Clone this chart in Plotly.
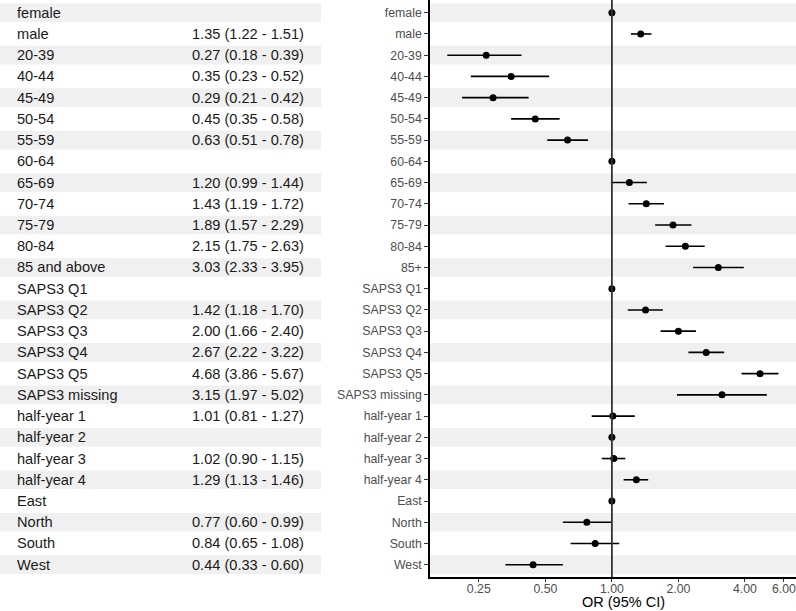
import plotly.graph_objects as go

table_labels = ["female", "male", "20-39", "40-44", "45-49", "50-54", "55-59", "60-64",
                "65-69", "70-74", "75-79", "80-84", "85 and above", "SAPS3 Q1", "SAPS3 Q2",
                "SAPS3 Q3", "SAPS3 Q4", "SAPS3 Q5", "SAPS3 missing", "half-year 1",
                "half-year 2", "half-year 3", "half-year 4", "East", "North", "South", "West"]
axis_labels = ["female", "male", "20-39", "40-44", "45-49", "50-54", "55-59", "60-64",
               "65-69", "70-74", "75-79", "80-84", "85+", "SAPS3 Q1", "SAPS3 Q2",
               "SAPS3 Q3", "SAPS3 Q4", "SAPS3 Q5", "SAPS3 missing", "half-year 1",
               "half-year 2", "half-year 3", "half-year 4", "East", "North", "South", "West"]
or_est = [1.00, 1.35, 0.27, 0.35, 0.29, 0.45, 0.63, 1.00, 1.20, 1.43, 1.89, 2.15, 3.03,
          1.00, 1.42, 2.00, 2.67, 4.68, 3.15, 1.01, 1.00, 1.02, 1.29, 1.00, 0.77, 0.84, 0.44]
ci_low = [1.00, 1.22, 0.18, 0.23, 0.21, 0.35, 0.51, 1.00, 0.99, 1.19, 1.57, 1.75, 2.33,
          1.00, 1.18, 1.66, 2.22, 3.86, 1.97, 0.81, 1.00, 0.90, 1.13, 1.00, 0.60, 0.65, 0.33]
ci_high = [1.00, 1.51, 0.39, 0.52, 0.42, 0.58, 0.78, 1.00, 1.44, 1.72, 2.29, 2.63, 3.95,
           1.00, 1.70, 2.40, 3.22, 5.67, 5.02, 1.27, 1.00, 1.15, 1.46, 1.00, 0.99, 1.08, 0.60]
is_ref = [True, False, False, False, False, False, False, True, False, False, False, False, False,
          True, False, False, False, False, False, False, True, False, False, True, False, False, False]
x_ticks = [0.25, 0.5, 1, 2, 4, 6]
x_tick_text = ["0.25", "0.50", "1.00", "2.00", "4.00", "6.00"]

W, H = 796, 611
n = len(axis_labels)
rows = list(range(n))

fig = go.Figure()

shapes = []
for i in rows:
    if i % 2 == 0:
        shapes.append(dict(type="rect", xref="paper", yref="y", x0=0, x1=321 / W,
                           y0=i - 0.44, y1=i + 0.44, fillcolor="#f0f0f0", line_width=0, layer="below"))
        shapes.append(dict(type="rect", xref="paper", yref="y", x0=430 / W, x1=1,
                           y0=i - 0.44, y1=i + 0.44, fillcolor="#f0f0f0", line_width=0, layer="below"))
shapes.append(dict(type="line", xref="x", yref="paper", x0=1, x1=1, y0=0, y1=1,
                   line=dict(color="#333333", width=1.8)))

fig.add_trace(go.Scatter(
    x=or_est, y=rows, mode="markers",
    marker=dict(color="black", size=7),
    error_x=dict(type="data", symmetric=False,
                 array=[h - o for h, o in zip(ci_high, or_est)],
                 arrayminus=[o - l for o, l in zip(or_est, ci_low)],
                 color="black", thickness=1.6, width=0),
    hoverinfo="skip", showlegend=False))

annotations = []
font_tbl = dict(family="Liberation Sans, Arial", size=14.6, color="#1a1a1a")
for i in rows:
    annotations.append(dict(xref="paper", yref="y", x=15 / W, y=i, text=table_labels[i],
                            showarrow=False, xanchor="left", yanchor="middle", font=font_tbl))
    if not is_ref[i]:
        txt = f"{or_est[i]:.2f} ({ci_low[i]:.2f} - {ci_high[i]:.2f})"
        annotations.append(dict(xref="paper", yref="y", x=306 / W, y=i, text=txt,
                                showarrow=False, xanchor="right", yanchor="middle", font=font_tbl))
annotations.append(dict(xref="paper", yref="paper", x=623 / W, y=0, yshift=-25,
                        text="OR (95% CI)", showarrow=False, xanchor="center", yanchor="middle",
                        font=dict(family="Liberation Sans, Arial", size=14.5, color="black")))

fig.update_layout(
    width=W, height=H,
    margin=dict(l=0, r=0, t=0, b=34, autoexpand=False),
    paper_bgcolor="white", plot_bgcolor="white",
    shapes=shapes, annotations=annotations,
    xaxis=dict(type="log", domain=[430 / W, 1], range=[-0.823, 0.833], automargin=False,
               tickvals=x_ticks, ticktext=x_tick_text, showgrid=False, zeroline=False,
               showline=True, linecolor="black", linewidth=1.5, ticklabeloverflow="allow",
               ticks="outside", ticklen=3, tickcolor="#333333", ticklabelstandoff=-4,
               tickfont=dict(family="Liberation Sans, Arial", size=12.3, color="#4d4d4d")),
    yaxis=dict(range=[26.58, -0.6], tickvals=rows, ticktext=axis_labels, automargin=False,
               showgrid=False, zeroline=False, showline=True, linecolor="black", linewidth=1.5,
               ticks="outside", ticklen=4, tickcolor="#333333",
               tickfont=dict(family="Liberation Sans, Arial", size=12.3, color="#4d4d4d")),
)

fig.write_html("out.html", config={"displayModeBar": False},
               post_script="document.body.style.margin='0';document.body.style.overflow='hidden';")
